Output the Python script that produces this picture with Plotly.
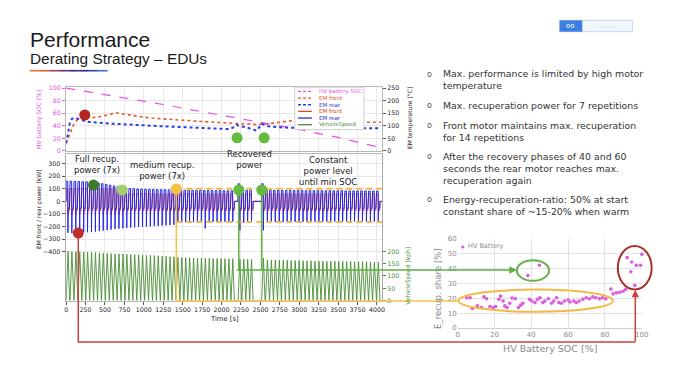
import plotly.graph_objects as go

W, H = 687, 379

# ---------------- data ----------------
time_ticks = [0, 250, 500, 750, 1000, 1250, 1500, 1750, 2000, 2250, 2500, 2750, 3000, 3250, 3500, 3750, 4000]

soc_time = [0, 250, 500, 750, 1000, 1250, 1500, 1750, 2000, 2200, 2500, 2750, 3000, 3250, 3500, 3750, 4050]
soc_pct = [100, 95, 90, 84, 79, 74, 68, 62.5, 57, 52, 45.5, 40, 34, 27.5, 21.5, 14, 5]

temp_time = [0, 25, 50, 75, 100, 150, 200, 250, 300, 350, 400, 450, 500, 550, 600, 650, 700, 800, 900,
             1000, 1100, 1200, 1300, 1400, 1500, 1600, 1700, 1800, 1900, 2000, 2100, 2175, 2200, 2215,
             2300, 2400, 2450, 2500, 2520, 2600, 2700, 2800, 2900, 3000, 3200, 3400, 3600, 3800, 4050]
temp_front = [30, 50, 75, 95, 108, 125, 133, 136, 134, 133, 134, 138, 142, 147, 151, 152, 149, 143, 138,
              134, 131, 128, 126, 124, 122, 120, 118, 116, 114, 112, 110, 108, 106, 106,
              107, 108, 104, 106, 107, 108, 112, 117, 120, 119, 117, 116, 115, 114, 114]
temp_rear = [30, 75, 115, 128, 132, 128, 122, 118, 115, 113, 112, 111, 110, 109, 108, 108, 107, 106, 104,
             102, 100, 99, 97, 96, 95, 93, 92, 90, 89, 88, 87, 96, 104, 100,
             95, 86, 80, 100, 108, 98, 94, 93, 92, 92, 91, 91, 91, 90, 90]

cycle_start = [0, 50, 101, 151, 202, 252, 303, 353, 404, 454, 505, 555, 606, 656, 707, 757, 808, 858,
               909, 959, 1010, 1060, 1111, 1161, 1212, 1262, 1313, 1363, 1414, 1464, 1515, 1565, 1616,
               1666, 1717, 1767, 1818, 1868, 1919, 1969, 2020, 2070, 2121,
               2212, 2262, 2312, 2362,
               2515, 2566, 2617, 2668, 2719, 2770, 2821, 2872, 2923, 2974, 3025, 3076, 3127, 3178, 3229,
               3280, 3331, 3382, 3433, 3484, 3535, 3586, 3637, 3688, 3739, 3790, 3841, 3892, 3943, 3994]
speed_peak = [200, 199, 199, 198, 198, 197, 196, 195, 194, 193, 192, 191, 190, 190, 189, 188, 187, 187,
              186, 185, 184, 184, 183, 182, 181, 180, 179, 178, 176, 175, 174, 174, 173, 173,
              172, 172, 172, 171, 171, 171, 170, 170, 170,
              168, 168, 167, 167,
              172, 166, 165, 165, 164, 164, 164, 163, 163, 163, 162, 162, 162, 161, 161,
              161, 160, 160, 160, 160, 159, 159, 159, 158, 158, 158, 158, 157, 157, 157]
rear_peak = [160, 160, 158, 158, 156, 155, 154, 150, 145, 140, 135, 128, 122, 115, 110, 105, 102, 100,
             98, 97, 96, 95, 94, 93, 92, 92, 91, 90, 88, 88, 88, 87, 87, 87,
             86, 86, 86, 85, 85, 85, 85, 84, 84,
             140, 90, 88, 88,
             140, 90, 88, 88, 87, 87, 87, 86, 86, 86, 86, 85, 85, 85, 85,
             85, 84, 84, 84, 84, 84, 83, 83, 83, 83, 83, 83, 82, 82, 82]
rear_recup = [-250, -252, -250, -248, -246, -245, -244, -240, -236, -232, -228, -224, -220, -217, -214,
              -211, -208, -206, -204, -202, -200, -198, -196, -194, -192, -190, -188, -186,
              -170, -168, -166, -165, -165, -164, -164, -215, -163, -163, -163, -162, -162, -162, -162,
              -230, -170, -165, -165,
              -230, -168, -165, -165, -164, -164, -164, -163, -163, -163, -163, -162, -162, -162, -162,
              -162, -161, -161, -161, -161, -161, -160, -160, -160, -160, -160, -160, -160, -160, -160]
front_peak = [100] * 14 + [60] * 63
front_recup = [-105] * 14 + [-80] * 63
rear_plateau = -55
front_plateau = -72

level_time = [1418, 4064]
level_high = [100, 100]
level_low = [-164, -164]

# event markers (time, value)
top_mark_t = [240, 2200, 2548]
top_mark_temp = [143, 52, 52]
top_mark_col = ['#b3261e', '#66bb3c', '#66bb3c']
pow_mark_t = [156, 352, 720, 1418, 2222, 2518]
pow_mark_p = [-252, 129, 90, 98, 90, 90]
pow_mark_col = ['#c0302a', '#3a7a2a', '#a3d06a', '#f6c243', '#66bb3c', '#66bb3c']

soc_pts = [5.0, 6.8, 8.0, 10.7, 12.9, 14.3, 15.7, 17.5, 19.3, 20.6, 22.4, 23.3, 24.7, 25.6, 26.8, 28.3,
           29.5, 31.3, 33.0, 34.3, 35.4, 39.0, 40.3, 42.0, 43.3, 44.7, 46.2, 47.4, 49.2, 51.0, 52.2,
           53.7, 55.0, 56.4, 58.0, 60.0, 61.0, 63.0, 64.4, 66.0, 68.0, 69.8, 71.6, 73.3, 75.0, 77.0,
           78.7, 80.5, 83.2, 84.4, 86.2, 88.0, 89.8, 91.2, 92.1, 94.5, 94.0, 96.2, 97.0, 99.3, 100.0,
           38.1, 44.4]
share_pts = [20.4, 20.4, 13.2, 14.9, 13.8, 21.0, 19.7, 14.5, 13.8, 14.5, 19.3, 21.5, 18.2, 14.9, 13.8, 16.7,
             20.2, 19.7, 13.8, 15.4, 16.7, 19.3, 18.2, 17.1, 19.3, 20.4, 17.1, 18.2, 19.7, 16.7, 18.2,
             20.4, 17.1, 16.7, 18.2, 18.9, 17.5, 18.2, 17.1, 18.2, 19.3, 20.4, 19.7, 21.0, 20.4, 19.7,
             20.4, 19.7, 26.3, 23.0, 23.7, 24.1, 24.8, 25.9, 47.4, 44.5, 37.9, 28.7, 42.3, 42.3, 49.6,
             35.3, 42.3]

bullets = [
    "Max. performance is limited by high motor<br>temperature",
    "Max. recuperation power for 7 repetitions",
    "Front motor maintains max. recuperation<br>for 14 repetitions",
    "After the recovery phases of 40 and 60<br>seconds the rear motor reaches max.<br>recuperation again",
    "Energy-recuperation-ratio: 50% at start<br>constant share of ~15-20% when warm",
]

# ---------------- geometry helpers ----------------
def px(x):
    return x / W

def py(y):
    return 1 - y / H

X0, X1 = 65, 385
T_MAX = 4064
def tx(t):
    return X0 + t * (X1 - X0) / T_MAX

P_ZERO, P_SCALE = 201.6, 0.1286
def ppow(p):
    return P_ZERO - p * P_SCALE

TOP_Y0, TOP_Y1 = 85, 150
POW_TOP, POW_BOT = 153, 303
SPD_SCALE = 0.2515

FONT = 'DejaVu Sans'

# ---------------- build cycle waveforms ----------------
t_rear, p_rear, t_front, p_front, t_spd, v_spd = [], [], [], [], [], []
for i, t0 in enumerate(cycle_start):
    offs = [0, 1, 21, 22, 23, 26, 42, 44]
    rv = [0, rear_peak[i], rear_peak[i], 0, rear_recup[i], rear_plateau, rear_plateau, 0]
    fv = [0, front_peak[i], front_peak[i], 0, front_recup[i], front_plateau, front_plateau, 0]
    for o, a, b in zip(offs, rv, fv):
        t_rear.append(t0 + o); p_rear.append(a)
        t_front.append(t0 + o); p_front.append(b)
    for o, v in zip([0, 24, 44], [0, speed_peak[i], 0]):
        t_spd.append(t0 + o); v_spd.append(v)
t_rear.append(T_MAX); p_rear.append(0)
t_front.append(T_MAX); p_front.append(0)
t_spd.append(T_MAX); v_spd.append(0)

fig = go.Figure()

# top panel
fig.add_trace(go.Scatter(x=soc_time, y=soc_pct, xaxis='x', yaxis='y', mode='lines',
                         line=dict(color='#ea4fea', width=1.2, dash='dash'), showlegend=False))
fig.add_trace(go.Scatter(x=temp_time, y=temp_front, xaxis='x', yaxis='y2', mode='lines',
                         line=dict(color='#e8562e', width=1.6, dash='dot'), showlegend=False))
fig.add_trace(go.Scatter(x=temp_time, y=temp_rear, xaxis='x', yaxis='y2', mode='lines',
                         line=dict(color='#2a3be8', width=2, dash='dot'), showlegend=False))
fig.add_trace(go.Scatter(x=top_mark_t, y=top_mark_temp, xaxis='x', yaxis='y2', mode='markers',
                         marker=dict(size=11, color=top_mark_col), showlegend=False))

# power panel
fig.add_trace(go.Scatter(x=t_front, y=p_front, xaxis='x2', yaxis='y3', mode='lines',
                         line=dict(color='#e2452a', width=1), showlegend=False))
fig.add_trace(go.Scatter(x=t_rear, y=p_rear, xaxis='x2', yaxis='y3', mode='lines',
                         line=dict(color='#2626e6', width=1), showlegend=False))
for lv in (level_high, level_low):
    fig.add_trace(go.Scatter(x=level_time, y=lv, xaxis='x2', yaxis='y3', mode='lines',
                             line=dict(color='#f5b942', width=2, dash='6px,4px'), showlegend=False))
fig.add_trace(go.Scatter(x=pow_mark_t, y=pow_mark_p, xaxis='x2', yaxis='y3', mode='markers',
                         marker=dict(size=11, color=pow_mark_col), showlegend=False))

# speed
fig.add_trace(go.Scatter(x=t_spd, y=v_spd, xaxis='x2', yaxis='y4', mode='lines',
                         line=dict(color='#4a8f36', width=0.9), showlegend=False))

# scatter panel
fig.add_trace(go.Scatter(x=soc_pts, y=share_pts, xaxis='x3', yaxis='y5', mode='markers',
                         marker=dict(size=3.6, color='#de5ade'), cliponaxis=False, showlegend=False))

grid = '#e8e8e8'
axline = '#b8b8b8'
TS = 6.3
tfont = dict(family=FONT, size=TS, color='#222222')

fig.update_layout(
    width=W, height=H, autosize=False,
    margin=dict(l=0, r=0, t=0, b=0),
    paper_bgcolor='white', plot_bgcolor='white',
    hovermode=False,
    xaxis=dict(domain=[px(X0), px(X1)], range=[0, T_MAX], anchor='y', tickvals=time_ticks,
               showticklabels=False, showgrid=True, gridcolor=grid, zeroline=False,
               showline=True, linecolor=axline, mirror=True),
    yaxis=dict(domain=[py(TOP_Y1), py(TOP_Y0)], range=[0, 100 * (TOP_Y1 - TOP_Y0) / (TOP_Y1 - 86)],
               anchor='x', tickvals=[0, 20, 40, 60, 80, 100], showgrid=True, gridcolor=grid,
               zeroline=False, showline=True, linecolor=axline, mirror=True, ticks='outside', ticklen=3,
               tickcolor='#e060e0', tickfont=dict(family=FONT, size=TS, color='#e050e0')),
    yaxis2=dict(overlaying='y', side='right', anchor='x',
                range=[0, 250 * (TOP_Y1 - TOP_Y0) / (TOP_Y1 - 86)],
                tickvals=[0, 50, 100, 150, 200, 250], showgrid=False, zeroline=False,
                ticks='outside', ticklen=3, tickcolor='#555', tickfont=tfont),
    xaxis2=dict(domain=[px(X0), px(X1)], range=[0, T_MAX], anchor='y3', tickvals=time_ticks,
                tickangle=0, showgrid=True, gridcolor=grid, zeroline=False, showline=True,
                linecolor=axline, mirror=True, ticks='outside', ticklen=3, tickcolor='#555',
                tickfont=tfont),
    yaxis3=dict(domain=[py(POW_BOT), py(POW_TOP)],
                range=[-(POW_BOT - P_ZERO) / P_SCALE, (P_ZERO - POW_TOP) / P_SCALE], anchor='x2',
                tickvals=[-400, -300, -200, -100, 0, 100, 200, 300], showgrid=True, gridcolor=grid,
                zeroline=False, showline=True, linecolor='#a8a8a8', linewidth=1.5, mirror=True,
                ticks='outside', ticklen=3, tickcolor='#555', tickfont=tfont),
    yaxis4=dict(overlaying='y3', side='right', anchor='x2',
                range=[0, (POW_BOT - POW_TOP) / SPD_SCALE], tickvals=[0, 50, 100, 150, 200],
                showgrid=False, zeroline=False, ticks='outside', ticklen=3, tickcolor='#4a8f36',
                tickfont=dict(family=FONT, size=TS, color='#4a8f36')),
    xaxis3=dict(domain=[px(461.7), px(648.3)], range=[0, 100], anchor='y5', dtick=20, tickangle=0,
                showgrid=True, gridcolor='#e2e2e2', zeroline=False, showline=True, linecolor='#cfcfcf',
                ticks='', tickfont=dict(family=FONT, size=7, color='#8a8a8a')),
    yaxis5=dict(domain=[py(331), py(240)], range=[0, 60], anchor='x3', dtick=10,
                showgrid=True, gridcolor='#e2e2e2', zeroline=False, showline=False, ticks='',
                tickfont=dict(family=FONT, size=7, color='#8a8a8a')),
)

shapes = []
ann = []

def text(x, y, s, size, color='#222', xanchor='center', yanchor='middle', angle=0, family=FONT, align='center'):
    ann.append(dict(x=px(x), y=py(y), xref='paper', yref='paper', text=s, showarrow=False,
                    font=dict(family=family, size=size, color=color), xanchor=xanchor,
                    yanchor=yanchor, textangle=angle, align=align, borderpad=0))

# title
text(27, 36, 'Performance', 21, '#1a1a1a', xanchor='left', family='Liberation Sans')
text(27, 55.5, 'Derating Strategy – EDUs', 15.4, '#1a1a1a', xanchor='left', family='Liberation Sans')
grad = ['#e8763a', '#d8603e', '#a34a5a', '#5a3d7a', '#2a2f78', '#23307a', '#2f4a9a', '#4a6fc8']
seg = (107 - 28) / len(grad)
for k, c in enumerate(grad):
    shapes.append(dict(type='rect', xref='paper', yref='paper', x0=px(28 + k * seg), x1=px(28 + (k + 1) * seg),
                       y0=py(69), y1=py(67.3), fillcolor=c, line=dict(width=0)))

# logo
shapes.append(dict(type='rect', xref='paper', yref='paper', x0=px(565), x1=px(639), y0=py(28.3), y1=py(16.7),
                   fillcolor='#f1f5fc', line=dict(color='#c8d8f0', width=1)))
shapes.append(dict(type='rect', xref='paper', yref='paper', x0=px(565), x1=px(588), y0=py(28.3), y1=py(16.7),
                   fillcolor='#3d7fe0', line=dict(width=0)))
text(576.5, 22.5, 'oo', 7, 'white')
text(613, 22.5, '·········', 6, '#aebfd8')

# bullets
bullet_y = [77.2, 103.3, 129.8, 167.6, 205.8]
first_y = [71.7, 103.3, 124, 155.7, 200]
for s, yc, yf in zip(bullets, bullet_y, first_y):
    text(433, yf, 'o', 8, '#555')
    text(446, yc, s, 9.4, '#333', xanchor='left', align='left')

# axis titles (left chart)
text(37, 118, 'HV battery SOC [%]', 6, '#e050e0', angle=-90)
text(37, 210, 'EM front / rear power [kW]', 6, '#222', angle=-90)
text(413, 117, 'EM temperature [°C]', 6, '#222', angle=-90)
text(412, 278, 'VehicleSpeed [kph]', 6, '#4a8f36', angle=-90)
text(225, 321.5, 'Time [s]', 6.8, '#222')

# chart notes
text(96.3, 163.5, 'Full recup.<br>power (7x)', 8.5)
text(162.5, 169.7, 'medium recup.<br>power (7x)', 8.5)
text(250.5, 159, 'Recovered<br>power', 8.5)
text(330.5, 171, 'Constant<br>power level<br>until min SOC', 8.5)

# manual legend (top panel)
shapes.append(dict(type='rect', xref='paper', yref='paper', x0=px(296.7), x1=px(366.7), y0=py(128.3), y1=py(85),
                   fillcolor='white', line=dict(color='#cfcfcf', width=1)))
leg = [('HV battery SOC', '#ea4fea', 'dash'), ('EM front', '#e8562e', 'dash'), ('EM rear', '#2a3be8', 'dash'),
       ('EM front', '#e2452a', 'solid'), ('EM rear', '#2626e6', 'solid'), ('VehicleSpeed', '#4a8f36', 'solid')]
for k, (name, col, dsh) in enumerate(leg):
    yy = 89.3 + k * 6.8
    shapes.append(dict(type='line', xref='paper', yref='paper', x0=px(300), x1=px(314), y0=py(yy), y1=py(yy),
                       line=dict(color=col, width=1.3, dash='3px,2px' if dsh == 'dash' else 'solid')))
    text(320, yy, name, 5.5, col, xanchor='left')

# scatter legend and titles
text(467, 247.5, '●', 4, '#de5ade')
text(471, 247.5, 'HV Battery', 6.5, '#8a8a8a', xanchor='left')
text(555, 352, 'HV Battery SOC [%]', 9.5, '#8a8a8a')
text(442, 291, 'E_recup. share [%]', 8.6, '#8a8a8a', angle=-90)

# ellipses
shapes.append(dict(type='circle', xref='paper', yref='paper', x0=px(521.7), x1=px(554.3), y0=py(282.7), y1=py(261.7),
                   line=dict(color='#66b04a', width=2)))
shapes.append(dict(type='circle', xref='paper', yref='paper', x0=px(462.5), x1=px(619), y0=py(314.5), y1=py(291.7),
                   line=dict(color='#f5b942', width=2)))
shapes.append(dict(type='circle', xref='paper', yref='paper', x0=px(624), x1=px(658.3), y0=py(291.7), y1=py(247.3),
                   line=dict(color='#a8322a', width=2)))

# connectors
rx, ry = tx(pow_mark_t[0]), ppow(pow_mark_p[0])
shapes.append(dict(type='path', xref='paper', yref='paper',
                   path=f'M {px(rx)},{py(ry + 5)} L {px(rx)},{py(345.3)} L {px(641.7)},{py(345.3)}',
                   line=dict(color='#cc4040', width=1.5)))
ann.append(dict(x=px(641.7), y=py(292), xref='paper', yref='paper', ax=0, ay=53.3, text='', showarrow=True,
                arrowhead=2, arrowsize=1, arrowwidth=1.5, arrowcolor='#cc4040', standoff=0))
yx, yy0 = tx(pow_mark_t[3]), ppow(pow_mark_p[3])
shapes.append(dict(type='path', xref='paper', yref='paper',
                   path=f'M {px(yx)},{py(yy0 + 5)} L {px(yx)},{py(303.3)} L {px(462.5)},{py(303.3)}',
                   line=dict(color='#f5c04a', width=1.5)))
for k in (4, 5):
    gx, gy = tx(pow_mark_t[k]), ppow(pow_mark_p[k])
    shapes.append(dict(type='line', xref='paper', yref='paper', x0=px(gx), x1=px(gx), y0=py(gy + 5), y1=py(271.7),
                       line=dict(color='#5cb040', width=1.5)))
g0 = tx(pow_mark_t[4])
ann.append(dict(x=px(521.7), y=py(271.7), xref='paper', yref='paper', ax=-(521.7 - g0), ay=0, text='',
                showarrow=True, arrowhead=2, arrowsize=1, arrowwidth=1.5, arrowcolor='#5cb040', standoff=0))

fig.update_layout(shapes=shapes, annotations=ann)
fig.write_html('out.html', config={'displayModeBar': False, 'staticPlot': True},
               post_script="document.body.style.margin='0px';document.body.style.padding='0px';")
